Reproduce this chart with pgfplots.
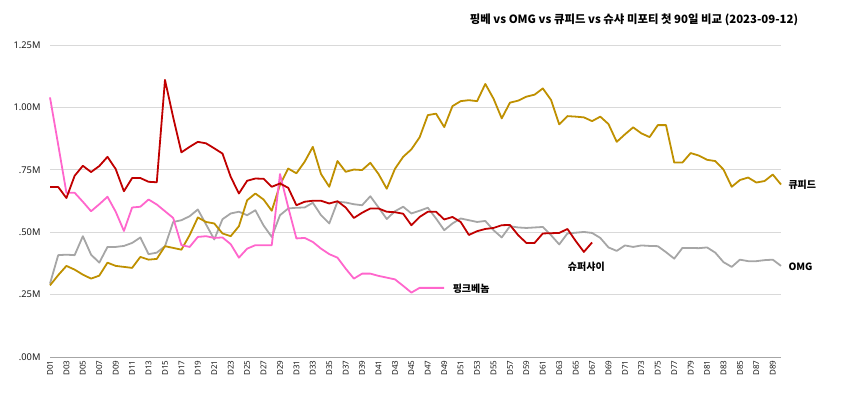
\documentclass[border=0pt]{standalone}
\usepackage{fontspec}
\setmainfont{Noto Sans}
\newfontfamily\kr{Noto Sans CJK KR}
\usepackage{pgfplots}
\pgfplotsset{compat=1.18}

\definecolor{cRed}{HTML}{C00000}
\definecolor{cGold}{HTML}{BF9000}
\definecolor{cGray}{HTML}{A6A6A6}
\definecolor{cPink}{HTML}{FF66CC}
\definecolor{cGrid}{HTML}{D9D9D9}

\pgfplotstableread{
x y
1 0.681
2 0.681
3 0.637
4 0.726
5 0.766
6 0.741
7 0.765
8 0.802
9 0.753
10 0.664
11 0.717
12 0.717
13 0.702
14 0.700
15 1.110
16 0.960
17 0.820
18 0.842
19 0.862
20 0.856
21 0.836
22 0.815
23 0.722
24 0.655
25 0.706
26 0.715
27 0.714
28 0.682
29 0.695
30 0.678
31 0.608
32 0.622
33 0.626
34 0.626
35 0.615
36 0.624
37 0.599
38 0.557
39 0.578
40 0.595
41 0.595
42 0.582
43 0.580
44 0.574
45 0.528
46 0.561
47 0.582
48 0.582
49 0.551
50 0.561
51 0.541
52 0.489
53 0.504
54 0.513
55 0.517
56 0.528
57 0.529
58 0.488
59 0.457
60 0.457
61 0.495
62 0.496
63 0.497
64 0.513
65 0.465
66 0.421
67 0.459
}\supershy

\pgfplotstableread{
x y
1 0.287
2 0.328
3 0.365
4 0.350
5 0.330
6 0.314
7 0.326
8 0.378
9 0.365
10 0.361
11 0.357
12 0.401
13 0.390
14 0.393
15 0.444
16 0.437
17 0.430
18 0.488
19 0.559
20 0.541
21 0.535
22 0.495
23 0.484
24 0.524
25 0.628
26 0.655
27 0.631
28 0.586
29 0.690
30 0.755
31 0.736
32 0.782
33 0.842
34 0.733
35 0.682
36 0.785
37 0.742
38 0.751
39 0.749
40 0.778
41 0.733
42 0.674
43 0.754
44 0.802
45 0.832
46 0.880
47 0.969
48 0.975
49 0.921
50 1.005
51 1.025
52 1.029
53 1.025
54 1.094
55 1.035
56 0.956
57 1.019
58 1.027
59 1.043
60 1.051
61 1.076
62 1.030
63 0.932
64 0.965
65 0.963
66 0.960
67 0.945
68 0.963
69 0.933
70 0.862
71 0.892
72 0.920
73 0.896
74 0.881
75 0.929
76 0.929
77 0.779
78 0.779
79 0.817
80 0.807
81 0.790
82 0.785
83 0.751
84 0.682
85 0.709
86 0.719
87 0.699
88 0.705
89 0.731
90 0.691
}\cupid

\pgfplotstableread{
x y
1 0.294
2 0.408
3 0.410
4 0.408
5 0.484
6 0.410
7 0.378
8 0.441
9 0.441
10 0.445
11 0.457
12 0.479
13 0.412
14 0.418
15 0.444
16 0.541
17 0.548
18 0.564
19 0.591
20 0.531
21 0.471
22 0.552
23 0.575
24 0.582
25 0.568
26 0.588
27 0.527
28 0.481
29 0.568
30 0.595
31 0.598
32 0.599
33 0.618
34 0.568
35 0.535
36 0.622
37 0.619
38 0.612
39 0.608
40 0.644
41 0.599
42 0.553
43 0.584
44 0.602
45 0.575
46 0.586
47 0.598
48 0.555
49 0.508
50 0.535
51 0.555
52 0.548
53 0.541
54 0.545
55 0.508
56 0.479
57 0.524
58 0.519
59 0.517
60 0.519
61 0.521
62 0.488
63 0.451
64 0.495
65 0.498
66 0.501
67 0.497
68 0.477
69 0.439
70 0.425
71 0.447
72 0.441
73 0.447
74 0.445
75 0.444
76 0.420
77 0.394
78 0.437
79 0.437
80 0.436
81 0.439
82 0.418
83 0.380
84 0.361
85 0.390
86 0.384
87 0.384
88 0.388
89 0.390
90 0.365
}\omg

\pgfplotstableread{
x y
1 1.040
2 0.850
3 0.658
4 0.658
5 0.622
6 0.584
7 0.612
8 0.642
9 0.582
10 0.505
11 0.599
12 0.602
13 0.631
14 0.611
15 0.584
16 0.557
17 0.448
18 0.441
19 0.481
20 0.484
21 0.477
22 0.479
23 0.452
24 0.398
25 0.434
26 0.448
27 0.448
28 0.448
29 0.733
30 0.600
31 0.475
32 0.477
33 0.461
34 0.434
35 0.412
36 0.398
37 0.354
38 0.314
39 0.334
40 0.334
41 0.325
42 0.318
43 0.311
44 0.285
45 0.258
46 0.277
47 0.277
48 0.277
49 0.277
}\pinkvenom

\begin{document}
\begin{tikzpicture}[x=1pt,y=1pt]
\path[use as bounding box] (0,0) rectangle (850,404);
\begin{axis}[
  at={(50pt,47pt)}, anchor=south west,
  scale only axis, width=731pt, height=312pt,
  xmin=1, xmax=90, ymin=0, ymax=1.25,
  axis x line*=bottom, axis y line*=left,
  axis line style={-},
  x axis line style={draw=cGray, line width=1pt},
  y axis line style={draw=none},
  major tick length=0pt,
  ymajorgrids, grid style={cGrid, line width=0.6pt},
  ytick={0,0.25,0.5,0.75,1,1.25},
  yticklabels={.00M,.25M,.50M,.75M,1.00M,1.25M},
  xtick={1,3,...,89},
  xticklabels={D01,D03,D05,D07,D09,D11,D13,D15,D17,D19,D21,D23,D25,D27,D29,D31,D33,D35,D37,D39,D41,D43,D45,D47,D49,D51,D53,D55,D57,D59,D61,D63,D65,D67,D69,D71,D73,D75,D77,D79,D81,D83,D85,D87,D89},
  x tick label style={rotate=90, anchor=east, font=\fontsize{8}{9}\selectfont, text=black!90},
  y tick label style={font=\fontsize{9.3}{10}\selectfont, text=black!90, xshift=-6pt},
  clip=false,
  every axis plot/.append style={line width=1.8pt, line join=round, no marks},
]
\addplot[cGray] table {\omg};
\addplot[cGold] table {\cupid};
\addplot[cPink] table {\pinkvenom};
\addplot[cRed] table {\supershy};
\node[anchor=west, font=\kr\bfseries\fontsize{10}{11}\selectfont] at (axis cs:90,0.69) {\hspace{4pt}큐피드};
\node[anchor=west, font=\kr\bfseries\fontsize{10}{11}\selectfont] at (axis cs:90,0.36) {\hspace{4pt}OMG};
\node[anchor=west, font=\kr\bfseries\fontsize{10}{11}\selectfont] at (axis cs:49,0.272) {\hspace{5pt}핑크베놈};
\node[anchor=center, font=\kr\bfseries\fontsize{10}{11}\selectfont] at (axis cs:66.3,0.36) {슈퍼샤이};
\end{axis}
\node[font=\kr\bfseries\fontsize{11.4}{12}\selectfont] at (634,384) {핑베 vs OMG vs 큐피드 vs 슈샤 미포티 첫 90일 비교 (2023-09-12)};
\end{tikzpicture}
\end{document}
